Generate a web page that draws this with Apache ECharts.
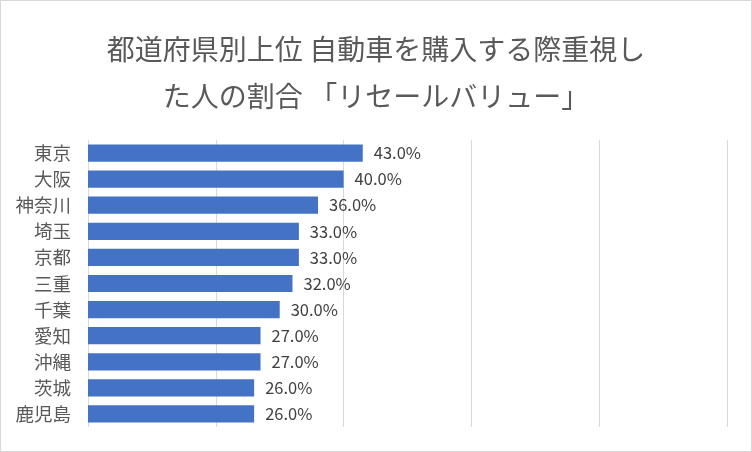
<!DOCTYPE html>
<html><head><meta charset="utf-8">
<script src="https://cdn.jsdelivr.net/npm/echarts@6/dist/echarts.min.js"></script>
<style>html,body{margin:0;padding:0;background:#fff}#c{width:752px;height:452px;box-sizing:border-box;border:1px solid #d9d9d9}</style>
</head><body><div id="c"></div>
<script>
const categories = ['東京','大阪','神奈川','埼玉','京都','三重','千葉','愛知','沖縄','茨城','鹿児島'];
const values = [43, 40, 36, 33, 33, 32, 30, 27, 27, 26, 26];
const titleText = '都道府県別上位 自動車を購入する際重視し\nた人の割合 「リセールバリュー」';
const chart = echarts.init(document.getElementById('c'));
chart.setOption({
  animation: false,
  title: {
    text: titleText, left: 'center', top: 20,
    textStyle: {fontFamily: 'Noto Sans CJK JP', fontSize: 28, fontWeight: 'normal', color: '#595959', lineHeight: 47}
  },
  grid: {left: 87, right: 24, top: 139, bottom: 24, containLabel: false},
  xAxis: {
    type: 'value', min: 0, max: 100, interval: 20,
    axisLabel: {show: false}, axisLine: {show: false}, axisTick: {show: false},
    splitLine: {show: true, lineStyle: {color: '#d9d9d9', width: 1}}
  },
  yAxis: {
    type: 'category', data: categories, inverse: true,
    axisLine: {show: false}, axisTick: {show: false},
    axisLabel: {fontFamily: 'Noto Sans CJK JP', fontSize: 18.5, color: '#595959', margin: 17}
  },
  series: [{
    type: 'bar', data: values, barCategoryGap: '34%',
    itemStyle: {color: '#4472c4'},
    label: {show: true, position: 'right', distance: 11, fontFamily: 'Noto Sans CJK JP', fontSize: 16.5, color: '#404040',
      formatter: p => p.value.toFixed(1) + '%'}
  }]
});
</script></body></html>
